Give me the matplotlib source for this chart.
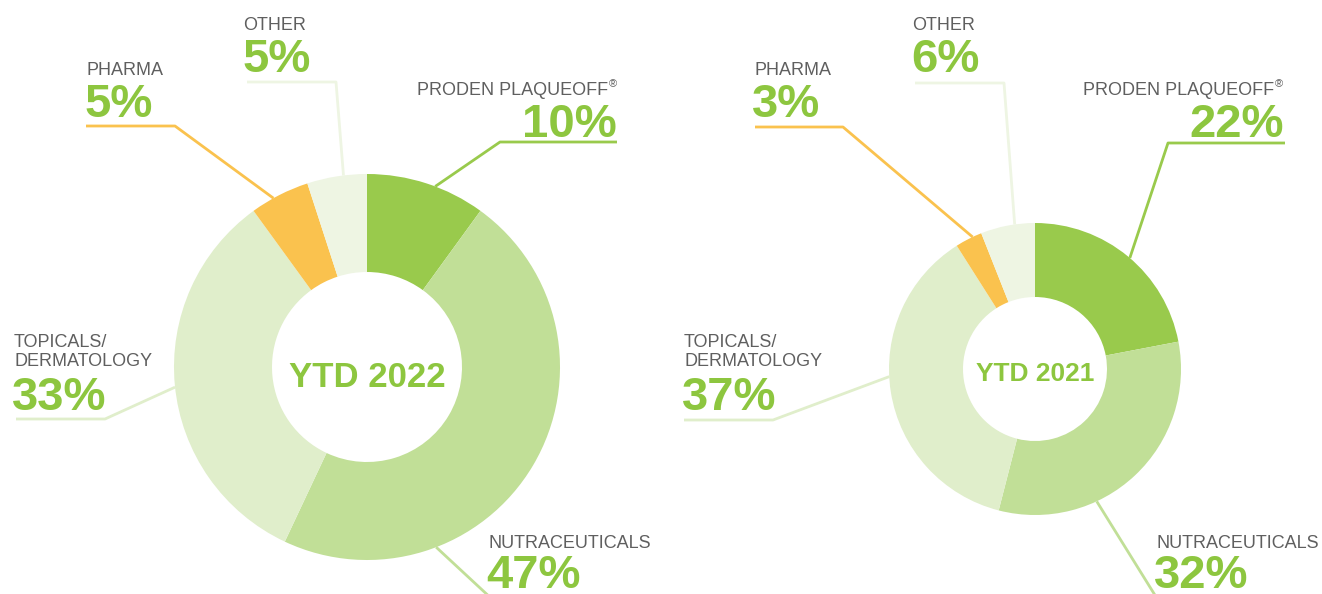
import numpy as np
import matplotlib
matplotlib.use("Agg")
import matplotlib.pyplot as plt
from matplotlib import font_manager

# data
segments = ["PRODEN PLAQUEOFF", "NUTRACEUTICALS", "TOPICALS/\nDERMATOLOGY", "PHARMA", "OTHER"]
share_2022 = [10, 47, 33, 5, 5]
share_2021 = [22, 32, 37, 3, 6]
titles = ["YTD 2022", "YTD 2021"]

colors = ["#99ca4c", "#c1df97", "#e0eecb", "#fac24e", "#eef5e3"]
green_txt = "#8dc63f"
gray_txt = "#5f5f5f"

names = {f.name for f in font_manager.fontManager.ttflist}
if "Liberation Sans Narrow" in names:
    lab_font, lab_size = "Liberation Sans Narrow", 15.5
else:
    lab_font, lab_size = "Liberation Sans", 13
num_font = "Liberation Sans"

W, H = 1322, 594
fig = plt.figure(figsize=(W / 100, H / 100), dpi=100)
ax = fig.add_axes([0, 0, 1, 1])
ax.set_xlim(0, W)
ax.set_ylim(H, 0)
ax.axis("off")

# layout for each chart (pixel coords, y down)
charts = [
    dict(values=share_2022, title=titles[0], c=(367, 367), r=193, ri=95, tsize=25, tbase=387,
         anchors=[20.7, 159, 264, 331, 353],
         elbows=[(500, 142), None, (105, 419), (175, 126), (336, 82)],
         ends=[(617, 142), (493, 600), (16, 419), (86, 126), (247, 82)],
         lab=[(617, 95, "right"), (489, 548, "left"), (14, 366, "left"), (86, 75, "left"), (243, 30, "left")],
         num=[(617, 137, "right"), (486, 588, "left"), (12, 410, "left"), (84, 117, "left"), (242, 72, "left")]),
    dict(values=share_2021, title=titles[1], c=(1035, 369), r=146, ri=72, tsize=19, tbase=381,
         anchors=[40.5, 155, 267, 334.7, 352],
         elbows=[(1168, 143), None, (773, 420), (843, 127), (1004, 83)],
         ends=[(1285, 143), (1158, 600), (684, 420), (755, 127), (915, 83)],
         lab=[(1283, 95, "right"), (1157, 548, "left"), (684, 366, "left"), (754, 75, "left"), (912, 30, "left")],
         num=[(1284, 137, "right"), (1154, 588, "left"), (682, 410, "left"), (752, 117, "left"), (911, 72, "left")]),
]

for ch in charts:
    cx, cy = ch["c"]
    r = ch["r"]
    # y axis is inverted, so startangle -90 + counterclock gives top / clockwise on screen
    ax.pie(ch["values"], colors=colors, startangle=-90, counterclock=True,
           center=(cx, cy), radius=r, frame=True,
           wedgeprops=dict(width=r - ch["ri"], linewidth=0))
    ax.text(cx, ch["tbase"], ch["title"], ha="center", va="baseline",
            fontsize=ch["tsize"], fontweight="bold", color=green_txt, family=num_font)

    for i, seg in enumerate(segments):
        a = np.deg2rad(ch["anchors"][i])
        x0 = cx + r * np.sin(a)
        y0 = cy - r * np.cos(a)
        pts = [(x0, y0)]
        if ch["elbows"][i] is not None:
            pts.append(ch["elbows"][i])
        pts.append(ch["ends"][i])
        xs, ys = zip(*pts)
        ax.plot(xs, ys, color=colors[i], lw=2, solid_capstyle="butt", zorder=1)

        lx, ly, ha = ch["lab"][i]
        if i == 0:
            ax.text(lx, ly - 8, "®", ha="right", va="baseline", fontsize=8,
                    color=gray_txt, family=lab_font)
            lx -= 9
        ax.text(lx, ly, seg, ha=ha, va="baseline", fontsize=lab_size, color=gray_txt,
                family=lab_font, linespacing=1.15)
        nx, ny, nha = ch["num"][i]
        ax.text(nx, ny, f"{ch['values'][i]}%", ha=nha, va="baseline", fontsize=34,
                fontweight="bold", color=green_txt, family=num_font)

ax.set_xlim(0, W)
ax.set_ylim(H, 0)
ax.set_aspect("auto")
fig.savefig("out.png", dpi=100, facecolor="white")
